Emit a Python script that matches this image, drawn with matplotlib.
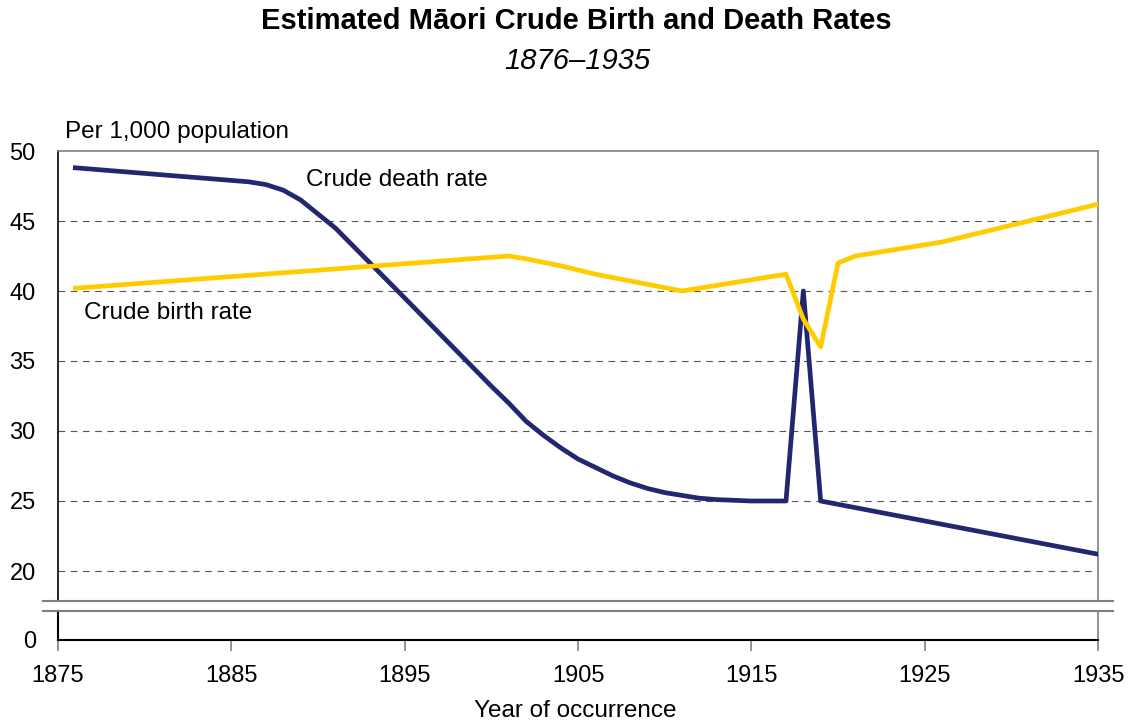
import numpy as np
import matplotlib
matplotlib.use("Agg")
import matplotlib.pyplot as plt

plt.rcParams['font.family'] = ['Liberation Sans', 'DejaVu Sans']

# Crude death rate (per 1,000)
death_years = [1876, 1886, 1887, 1888, 1889, 1891, 1895, 1900, 1901, 1902, 1903, 1904,
               1905, 1906, 1907, 1908, 1909, 1910, 1911, 1912, 1913, 1914, 1915, 1917,
               1918, 1919, 1935]
death_rate = [48.8, 47.8, 47.6, 47.2, 46.5, 44.5, 39.5, 33.2, 32.0, 30.7, 29.7, 28.8,
              28.0, 27.4, 26.8, 26.3, 25.9, 25.6, 25.4, 25.2, 25.1, 25.05, 25.0, 25.0,
              40.0, 25.0, 21.2]

# Crude birth rate (per 1,000)
birth_years = [1876, 1901, 1902, 1904, 1906, 1911, 1917, 1918, 1919, 1920, 1921, 1926, 1935]
birth_rate = [40.2, 42.5, 42.3, 41.8, 41.2, 40.0, 41.2, 38.0, 36.0, 42.0, 42.5, 43.5, 46.2]

x_ticks = [1875, 1885, 1895, 1905, 1915, 1925, 1935]
y_ticks = [20, 25, 30, 35, 40, 45, 50]

navy = '#232770'
gold = '#FFCC00'
grey = '#808080'

fig = plt.figure(figsize=(11.33, 7.24), dpi=100)
W, H = 1133, 724
x0, x1 = 58, 1098

# upper axes 151..601 px, lower axes 611..640 px
ax = fig.add_axes([x0 / W, 1 - 601 / H, (x1 - x0) / W, (601 - 151) / H])
axb = fig.add_axes([x0 / W, 1 - 640 / H, (x1 - x0) / W, (640 - 611) / H])

ax.plot(death_years, death_rate, color=navy, lw=3.4, solid_joinstyle='round', zorder=3)
ax.plot(birth_years, birth_rate, color=gold, lw=3.4, solid_joinstyle='round', zorder=3)

ax.set_xlim(1875, 1935)
ax.set_ylim(50 - 450 / 14, 50)
ax.set_yticks(y_ticks)
ax.set_yticklabels([str(v) for v in y_ticks], fontsize=17)
ax.tick_params(axis='y', length=0, pad=16)
ax.set_xticks([])
for v in y_ticks[:-1]:
    ax.axhline(v, color='#555555', lw=0.8, ls=(0, (6, 5)), zorder=1)
ax.spines['left'].set_color('black')
ax.spines['top'].set_color(grey)
ax.spines['right'].set_color(grey)
ax.spines['bottom'].set_visible(False)
for s in ax.spines.values():
    s.set_linewidth(1.2)

axb.set_xlim(1875, 1935)
axb.set_ylim(0, 29 / 14)
axb.set_yticks([0])
axb.set_yticklabels(['0'], fontsize=17)
axb.tick_params(axis='y', length=0, pad=16)
axb.set_xticks(x_ticks)
axb.set_xticklabels([str(v) for v in x_ticks], fontsize=17)
axb.tick_params(axis='x', length=8, width=1.2, color=grey, pad=10, direction='out')
axb.spines['left'].set_color('black')
axb.spines['bottom'].set_color('black')
axb.spines['top'].set_visible(False)
axb.spines['right'].set_color(grey)
for s in axb.spines.values():
    s.set_linewidth(1.5)
axb.spines['right'].set_linewidth(1.2)

# break lines extending past the axes
for yp in (601, 611):
    fig.add_artist(plt.Line2D([43 / W, 1113 / W], [1 - yp / H, 1 - yp / H],
                              color=grey, lw=1.5, transform=fig.transFigure))

fig.text(576 / W, 1 - 21 / H, 'Estimated Māori Crude Birth and Death Rates',
         ha='center', va='center', fontsize=21, fontweight='bold')
fig.text(577 / W, 1 - 61 / H, '1876–1935', ha='center', va='center',
         fontsize=21, style='italic')
fig.text(65 / W, 1 - 132 / H, 'Per 1,000 population', ha='left', va='center', fontsize=17.5)
fig.text(575 / W, 1 - 711 / H, 'Year of occurrence', ha='center', va='center', fontsize=17.5)
ax.text(1889.3, 47.9, 'Crude death rate', fontsize=17.5, ha='left', va='center')
ax.text(1876.5, 38.4, 'Crude birth rate', fontsize=17.5, ha='left', va='center')

fig.savefig('out.png', dpi=100)
